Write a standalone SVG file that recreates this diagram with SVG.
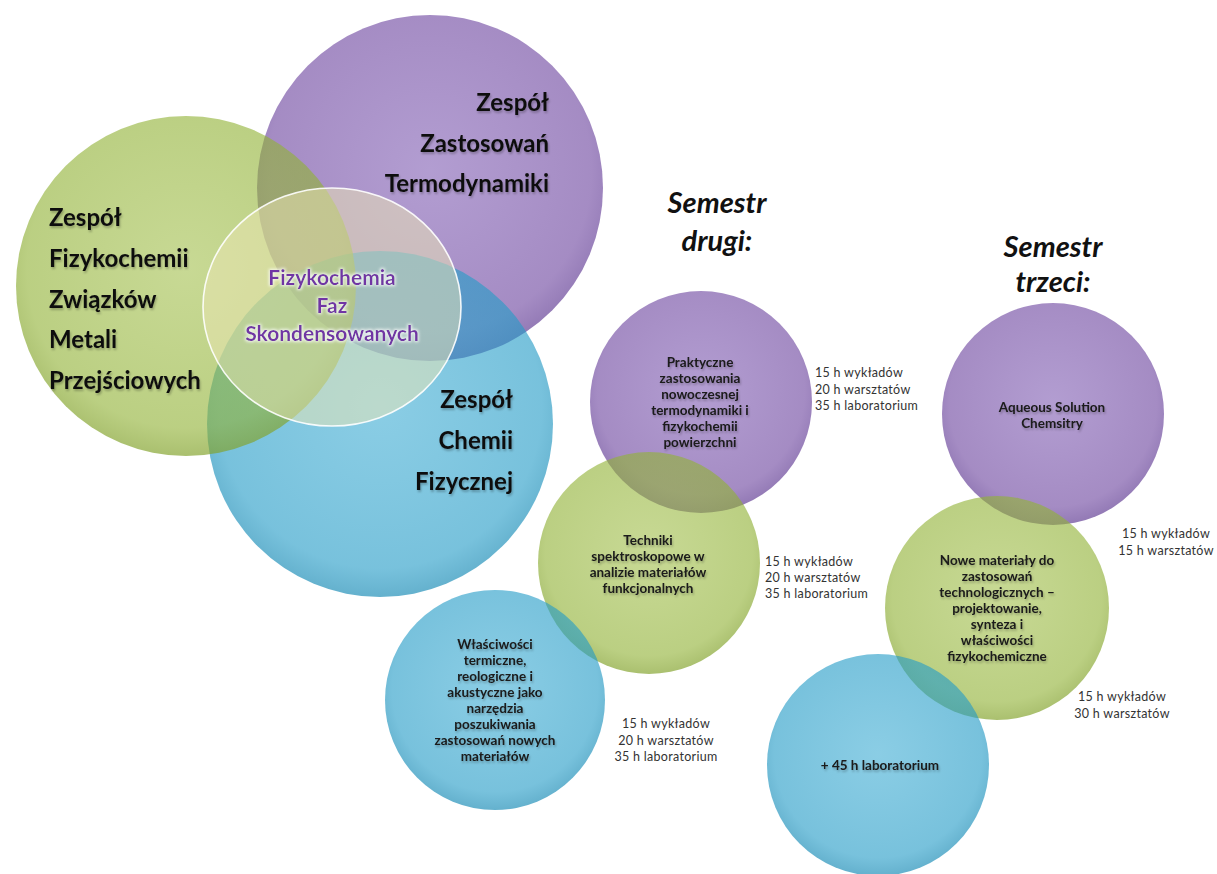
<svg xmlns="http://www.w3.org/2000/svg" width="1217" height="874" viewBox="0 0 1217 874">
  <defs>
    <!-- translucent bubble fills, slightly denser toward the rim -->
    <radialGradient id="gPurple" cx="50%" cy="45%" r="55%">
      <stop offset="0%" stop-color="#7650ad" stop-opacity="0.56"/>
      <stop offset="85%" stop-color="#6d459f" stop-opacity="0.62"/>
      <stop offset="100%" stop-color="#5f3a92" stop-opacity="0.68"/>
    </radialGradient>
    <radialGradient id="gGreen" cx="50%" cy="45%" r="55%">
      <stop offset="0%" stop-color="#9cbb40" stop-opacity="0.56"/>
      <stop offset="85%" stop-color="#91b236" stop-opacity="0.62"/>
      <stop offset="100%" stop-color="#82a22b" stop-opacity="0.68"/>
    </radialGradient>
    <radialGradient id="gBlue" cx="50%" cy="45%" r="55%">
      <stop offset="0%" stop-color="#2fa6d0" stop-opacity="0.56"/>
      <stop offset="85%" stop-color="#259cc7" stop-opacity="0.62"/>
      <stop offset="100%" stop-color="#1b8cb6" stop-opacity="0.68"/>
    </radialGradient>
    <filter id="soft" x="-10%" y="-10%" width="120%" height="130%">
      <feGaussianBlur in="SourceAlpha" stdDeviation="1.2"/>
      <feOffset dx="0.5" dy="1.5" result="b"/>
      <feFlood flood-color="#000" flood-opacity="0.25"/>
      <feComposite in2="b" operator="in"/>
      <feMerge><feMergeNode/><feMergeNode in="SourceGraphic"/></feMerge>
    </filter>
    <filter id="glow" x="-10%" y="-20%" width="120%" height="140%">
      <feMorphology in="SourceAlpha" operator="dilate" radius="1" result="d"/>
      <feGaussianBlur in="d" stdDeviation="1.5" result="b"/>
      <feFlood flood-color="#ffffff" flood-opacity="0.8"/>
      <feComposite in2="b" operator="in"/>
      <feMerge><feMergeNode/><feMergeNode in="SourceGraphic"/></feMerge>
    </filter>
  </defs>
  <style>
    .p { fill: url(#gPurple); }
    .g { fill: url(#gGreen); }
    .b { fill: url(#gBlue); }
    .core { fill: #ebe6b4; fill-opacity: 0.5; stroke: #ffffff; stroke-width: 1.6; stroke-opacity: 0.9; }
    .big { font-family: Lato, "Open Sans", sans-serif; font-weight: bold; font-size: 24px; fill: #111111; }
    .mid { font-family: Lato, "Open Sans", sans-serif; font-weight: bold; font-size: 21px; fill: #7136a4; text-anchor: middle; }
    .lbl { font-family: Lato, "Open Sans", sans-serif; font-weight: bold; font-size: 13.5px; fill: #1a1a1a; text-anchor: middle; }
    .sem { font-family: Lato, "Open Sans", sans-serif; font-weight: bold; font-style: italic; font-size: 29px; fill: #111111; text-anchor: middle; }
    .hrs { font-family: Lato, "Open Sans", sans-serif; font-size: 12.5px; fill: #333333; letter-spacing: 0.3px; }
    .c { text-anchor: middle; }
    .r { text-anchor: end; }
  </style>

  <rect width="1217" height="874" fill="#ffffff"/>

  <!-- research groups -->
  <g id="zespol-termodynamiki">
    <circle class="p" cx="430" cy="188" r="173"/>
    <text class="big r" x="549" y="111" filter="url(#soft)">Zespół</text>
    <text class="big r" x="549" y="152" filter="url(#soft)">Zastosowań</text>
    <text class="big r" x="549" y="192" filter="url(#soft)">Termodynamiki</text>
  </g>
  <g id="zespol-chemii-fizycznej">
    <circle class="b" cx="380" cy="424" r="173"/>
    <text class="big r" x="513" y="408" filter="url(#soft)">Zespół</text>
    <text class="big r" x="513" y="449" filter="url(#soft)">Chemii</text>
    <text class="big r" x="513" y="490" filter="url(#soft)">Fizycznej</text>
  </g>
  <g id="zespol-fizykochemii">
    <circle class="g" cx="186" cy="286" r="170"/>
    <text class="big" x="49" y="226" filter="url(#soft)">Zespół</text>
    <text class="big" x="49" y="267" filter="url(#soft)">Fizykochemii</text>
    <text class="big" x="49" y="308" filter="url(#soft)">Związków</text>
    <text class="big" x="49" y="348" filter="url(#soft)">Metali</text>
    <text class="big" x="49" y="389" filter="url(#soft)">Przejściowych</text>
  </g>
  <g id="fizykochemia-faz">
    <ellipse class="core" cx="332" cy="307" rx="129" ry="119"/>
    <text class="mid" x="332" y="285" filter="url(#glow)">Fizykochemia</text>
    <text class="mid" x="332" y="313" filter="url(#glow)">Faz</text>
    <text class="mid" x="332" y="341" filter="url(#glow)">Skondensowanych</text>
  </g>

  <!-- semester headings -->
  <g id="semestr-drugi">
    <text class="sem" x="717" y="213">Semestr</text>
    <text class="sem" x="717" y="251">drugi:</text>
  </g>
  <g id="semestr-trzeci">
    <text class="sem" x="1053" y="257">Semestr</text>
    <text class="sem" x="1053" y="292">trzeci:</text>
  </g>

  <!-- second semester courses -->
  <g id="kurs-praktyczne">
    <circle class="p" cx="701" cy="402" r="111"/>
    <g class="lbl" filter="url(#soft)">
      <text x="700" y="367">Praktyczne</text>
      <text x="700" y="383">zastosowania</text>
      <text x="700" y="399">nowoczesnej</text>
      <text x="700" y="415">termodynamiki i</text>
      <text x="700" y="431">fizykochemii</text>
      <text x="700" y="447">powierzchni</text>
    </g>
  </g>
  <g id="kurs-techniki">
    <circle class="g" cx="649" cy="563" r="111"/>
    <g class="lbl" filter="url(#soft)">
      <text x="648" y="545">Techniki</text>
      <text x="648" y="561">spektroskopowe  w</text>
      <text x="648" y="577">analizie materiałów</text>
      <text x="648" y="593">funkcjonalnych</text>
    </g>
  </g>
  <g id="kurs-wlasciwosci">
    <circle class="b" cx="495" cy="700" r="110"/>
    <g class="lbl" filter="url(#soft)">
      <text x="495" y="649">Właściwości</text>
      <text x="495" y="665">termiczne,</text>
      <text x="495" y="681">reologiczne i</text>
      <text x="495" y="697">akustyczne  jako</text>
      <text x="495" y="713">narzędzia</text>
      <text x="495" y="729">poszukiwania</text>
      <text x="495" y="745">zastosowań nowych</text>
      <text x="495" y="761">materiałów</text>
    </g>
  </g>

  <!-- third semester courses -->
  <g id="kurs-aqueous">
    <circle class="p" cx="1053" cy="414" r="111"/>
    <g class="lbl" filter="url(#soft)">
      <text x="1052" y="412">Aqueous  Solution</text>
      <text x="1052" y="428">Chemsitry</text>
    </g>
  </g>
  <g id="kurs-nowe-materialy">
    <circle class="g" cx="997" cy="608" r="112"/>
    <g class="lbl" filter="url(#soft)">
      <text x="997" y="565">Nowe materiały do</text>
      <text x="997" y="581">zastosowań</text>
      <text x="997" y="597">technologicznych  –</text>
      <text x="997" y="613">projektowanie,</text>
      <text x="997" y="629">synteza i</text>
      <text x="997" y="645">właściwości</text>
      <text x="997" y="661">fizykochemiczne</text>
    </g>
  </g>
  <g id="kurs-laboratorium">
    <circle class="b" cx="878" cy="765" r="111"/>
    <text class="lbl" x="880" y="770" filter="url(#soft)">+ 45 h laboratorium</text>
  </g>

  <!-- teaching hours -->
  <g id="godziny" class="hrs">
    <text x="815" y="377">15 h wykładów</text>
    <text x="815" y="394">20 h warsztatów</text>
    <text x="815" y="410">35 h laboratorium</text>

    <text x="765" y="566">15 h wykładów</text>
    <text x="765" y="582">20 h warsztatów</text>
    <text x="765" y="598">35 h laboratorium</text>

    <text class="c" x="666" y="728">15 h wykładów</text>
    <text class="c" x="666" y="745">20 h warsztatów</text>
    <text class="c" x="666" y="761">35 h laboratorium</text>

    <text class="c" x="1166" y="538">15 h wykładów</text>
    <text class="c" x="1166" y="555">15 h warsztatów</text>

    <text class="c" x="1122" y="701">15 h wykładów</text>
    <text class="c" x="1122" y="718">30 h warsztatów</text>
  </g>
</svg>
